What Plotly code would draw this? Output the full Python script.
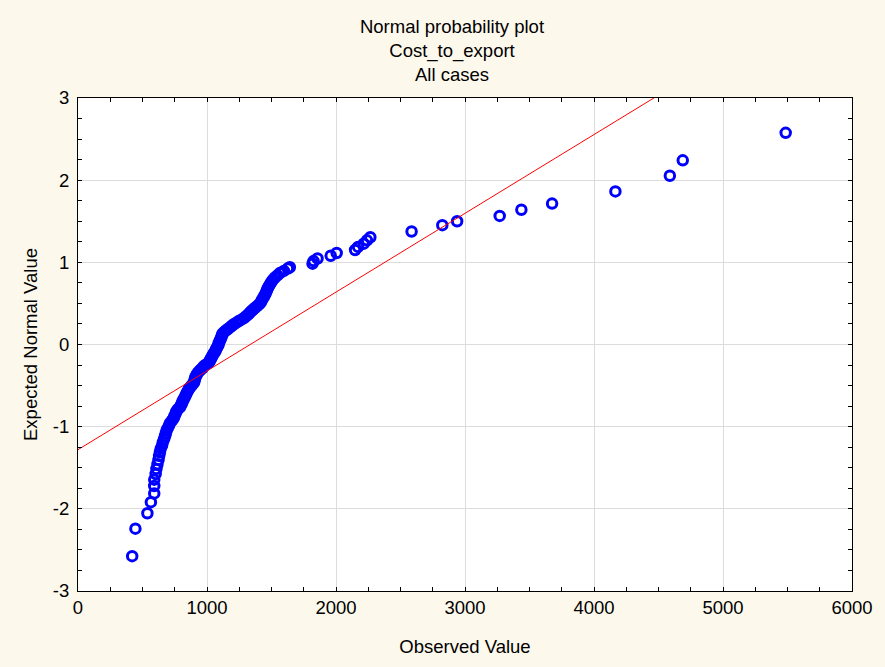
import plotly.graph_objects as go

# Observed cost values (sorted) and their expected normal scores
observed = [
    420, 445, 538, 565, 591, 591, 591, 602, 608, 616,
    624, 629, 635, 641, 652, 658, 668, 675, 681, 687,
    697, 706, 714, 729, 743, 748, 756, 762, 773, 790,
    798, 806, 811, 819, 827, 834, 840, 848, 856, 863,
    875, 886, 898, 902, 905, 909, 913, 921, 928, 940,
    951, 967, 974, 990, 1009, 1020, 1024, 1032, 1038, 1043,
    1051, 1059, 1067, 1070, 1078, 1084, 1090, 1092, 1097, 1103,
    1107, 1113, 1116, 1120, 1132, 1147, 1162, 1178, 1193, 1208,
    1228, 1247, 1270, 1289, 1304, 1320, 1331, 1343, 1358, 1373,
    1389, 1404, 1416, 1423, 1430, 1439, 1446, 1454, 1460, 1466,
    1473, 1481, 1491, 1500, 1512, 1527, 1546, 1565, 1596, 1627,
    1642, 1818, 1826, 1857, 1959, 2005, 2148, 2171, 2215, 2240,
    2266, 2586, 2824, 2939, 3269, 3437, 3675, 4166, 4588, 4688,
    5486,
]
expected = [
    -2.576, -2.241, -2.054, -1.919, -1.812, -1.722, -1.645, -1.576, -1.514, -1.457,
    -1.405, -1.356, -1.311, -1.268, -1.227, -1.188, -1.150, -1.114, -1.080, -1.047,
    -1.015, -0.984, -0.954, -0.925, -0.896, -0.869, -0.842, -0.815, -0.789, -0.764,
    -0.739, -0.714, -0.690, -0.666, -0.643, -0.620, -0.598, -0.576, -0.553, -0.532,
    -0.510, -0.489, -0.468, -0.447, -0.426, -0.406, -0.385, -0.366, -0.345, -0.325,
    -0.305, -0.286, -0.266, -0.246, -0.228, -0.208, -0.189, -0.170, -0.151, -0.132,
    -0.113, -0.094, -0.075, -0.056, -0.038, -0.019, 0.000, 0.019, 0.038, 0.056,
    0.075, 0.094, 0.113, 0.132, 0.151, 0.170, 0.189, 0.208, 0.228, 0.246,
    0.266, 0.286, 0.305, 0.325, 0.345, 0.366, 0.385, 0.406, 0.426, 0.447,
    0.468, 0.489, 0.510, 0.532, 0.553, 0.576, 0.598, 0.620, 0.643, 0.666,
    0.690, 0.714, 0.739, 0.764, 0.789, 0.815, 0.842, 0.869, 0.896, 0.925,
    0.940, 0.984, 1.015, 1.047, 1.080, 1.114, 1.150, 1.188, 1.227, 1.268,
    1.305, 1.375, 1.452, 1.500, 1.565, 1.640, 1.715, 1.863, 2.054, 2.241,
    2.576,
]

# Parameters of the fitted normal reference line
fit_mean = 1335
fit_sd = 1043

x_ticks = [0, 1000, 2000, 3000, 4000, 5000, 6000]
x_tick_labels = ["0", "1000", "2000", "3000", "4000", "5000", "6000"]
y_ticks = [-3, -2, -1, 0, 1, 2, 3]
y_tick_labels = ["-3", "-2", "-1", "0", "1", "2", "3"]

FONT = "Liberation Sans, Arial, sans-serif"
FS = 18.5

fig = go.Figure()
fig.add_trace(go.Scatter(
    x=observed, y=expected, mode="markers",
    marker=dict(symbol="circle-open", size=9.5, color="#0000ff",
                line=dict(width=3, color="#0000ff")),
    showlegend=False, hoverinfo="x+y",
))

line_x = [x_ticks[0], x_ticks[-1]]
line_y = [(v - fit_mean) / fit_sd for v in line_x]
fig.add_trace(go.Scatter(
    x=line_x, y=line_y, mode="lines",
    line=dict(color="#ff0000", width=1),
    showlegend=False, hoverinfo="skip",
))

axis_common = dict(
    showline=True, linecolor="black", linewidth=1, mirror="allticks",
    ticks="inside", ticklen=4, tickcolor="black", tickwidth=1,
    showgrid=True, gridcolor="#dcdcdc", gridwidth=1, zeroline=False,
    tickfont=dict(family=FONT, size=FS, color="black"),
)

fig.update_layout(
    width=885, height=667,
    margin=dict(l=78, r=25, t=98, b=76),
    paper_bgcolor="#fdf8ec",
    plot_bgcolor="white",
    font=dict(family=FONT, size=FS, color="black"),
    title=dict(
        text="Normal probability plot<br>Cost_to_export<br>All cases",
        x=452 / 885, xanchor="center", xref="container",
        y=1 - 33 / 667, yanchor="top", yref="container",
        font=dict(family=FONT, size=FS, color="black"),
    ),
    xaxis=dict(
        range=[x_ticks[0], x_ticks[-1]], tickvals=x_ticks,
        ticktext=x_tick_labels,
        minor=dict(dtick=250, tick0=0, ticks="inside", ticklen=4,
                   tickcolor="black", showgrid=False),
        title=dict(text="Observed Value", standoff=22,
                   font=dict(family=FONT, size=FS, color="black")),
        **axis_common,
    ),
    yaxis=dict(
        range=[y_ticks[0], y_ticks[-1]], tickvals=y_ticks,
        ticktext=y_tick_labels, ticklabelstandoff=4,
        minor=dict(dtick=0.25, tick0=0, ticks="inside", ticklen=4,
                   tickcolor="black", showgrid=False),
        title=dict(text="Expected Normal Value", standoff=10,
                   font=dict(family=FONT, size=FS, color="black")),
        **axis_common,
    ),
)

fig.write_html("out.html")
